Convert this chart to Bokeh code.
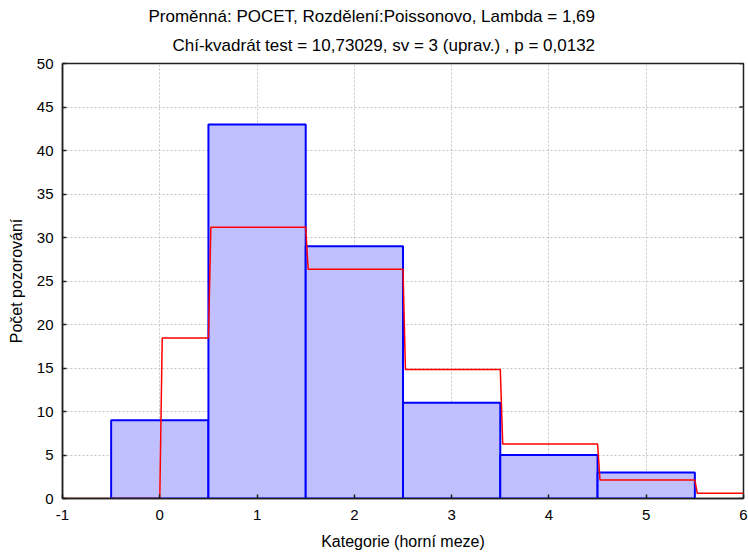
import math
from bokeh.plotting import figure
from bokeh.models import Title, FixedTicker, ColumnDataSource
from bokeh.embed import file_html
from bokeh.resources import INLINE

# ---- data ----
categories = [0, 1, 2, 3, 4, 5]
observed = [9, 43, 29, 11, 5, 3]
expected_cats = [0, 1, 2, 3, 4, 5, 6]
expected = [18.45, 31.18, 26.35, 14.84, 6.27, 2.12, 0.60]
x_ticks = [-1, 0, 1, 2, 3, 4, 5, 6]
y_ticks = [0, 5, 10, 15, 20, 25, 30, 35, 40, 45, 50]

title1 = "Proměnná: POCET, Rozdělení:Poissonovo, Lambda = 1,69"
title2 = "Chí-kvadrát test = 10,73029, sv = 3 (uprav.) , p = 0,0132"
xlabel = "Kategorie (horní meze)"
ylabel = "Počet pozorování"

FONT = "Liberation Sans"
TICK_FS = "15px"
LAB_FS = "16px"
TITLE_FS = "17px"
AXC = "#202020"

p = figure(width=748, height=554, x_range=(-1, 6), y_range=(0, 50),
           output_backend="svg", toolbar_location=None,
           min_border_left=62, min_border_right=5, min_border_top=63,
           min_border_bottom=56)
p.title.visible = False
p.outline_line_color = AXC
p.outline_line_width = 1.5
p.background_fill_color = "white"
p.border_fill_color = "white"

# grids
p.xgrid.ticker = FixedTicker(ticks=x_ticks[1:-1])
p.ygrid.ticker = FixedTicker(ticks=y_ticks[1:-1])
for g in (p.xgrid, p.ygrid):
    g.grid_line_color = "#c4c4c4"
    g.grid_line_dash = "2 2"
    g.grid_line_width = 1

# axes
for ax in (p.xaxis[0], p.yaxis[0]):
    ax.major_label_text_font = FONT
    ax.major_label_text_font_size = TICK_FS
    ax.major_label_text_color = "black"
    ax.axis_label_text_font = FONT
    ax.axis_label_text_font_size = LAB_FS
    ax.axis_label_text_font_style = "normal"
    ax.axis_label_text_color = "black"
    ax.axis_line_color = AXC
    ax.axis_line_width = 1.5
    ax.major_tick_line_color = AXC
    ax.major_tick_line_width = 1.5
    ax.major_tick_in = 4
    ax.major_tick_out = 0
    ax.minor_tick_line_color = None

p.xaxis[0].ticker = FixedTicker(ticks=x_ticks)
p.xaxis[0].major_label_overrides = {t: str(t) for t in x_ticks}
p.yaxis[0].ticker = FixedTicker(ticks=y_ticks)
p.xaxis[0].axis_label = xlabel
p.yaxis[0].axis_label = ylabel
p.xaxis[0].major_label_standoff = 11
p.xaxis[0].axis_label_standoff = 10
p.yaxis[0].major_label_standoff = 9
p.yaxis[0].axis_label_standoff = 9

# right-side inward ticks
p.ray(x=[x_ticks[-1]] * len(y_ticks), y=y_ticks, length=4, length_units="screen",
      angle=math.pi, line_color=AXC, line_width=1.5)

# bars
src = ColumnDataSource(dict(
    left=[c - 0.5 for c in categories],
    right=[c + 0.5 for c in categories],
    top=observed,
    bottom=[0] * len(categories),
))
p.quad(left="left", right="right", top="top", bottom="bottom", source=src,
       fill_color="#C0C0FF", line_color="#0000FF", line_width=2)

# expected step line
d = 0.025
starts = [0.0] + [c - 0.5 for c in expected_cats[1:]]
ends = [c + 0.5 for c in expected_cats[:-1]] + [6.0]
xs, ys = [-1.0], [0.0]
prev = 0.0
for s, e, v in zip(starts, ends, expected):
    xs += [s, s + d, e]
    ys += [prev, v, v]
    prev = v
p.line(xs, ys, line_color="#FF0000", line_width=1.5)

# titles (first added = closest to the plot)
t2 = Title(text=title2, align="left", offset=110, text_font=FONT,
           text_font_size=TITLE_FS, text_font_style="normal", text_color="black",
           standoff=17)
t1 = Title(text=title1, align="left", offset=86, text_font=FONT,
           text_font_size=TITLE_FS, text_font_style="normal", text_color="black",
           standoff=0)
p.add_layout(t2, "above")
p.add_layout(t1, "above")

open("out.html", "w").write(file_html(p, INLINE))
